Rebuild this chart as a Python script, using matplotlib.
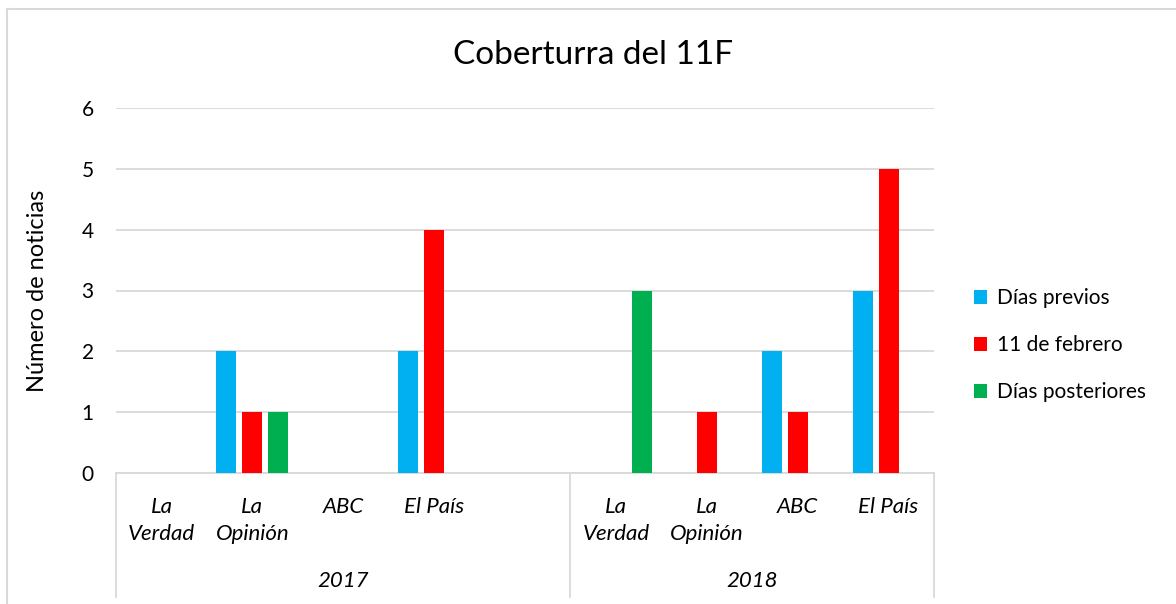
import matplotlib
matplotlib.use("Agg")
import matplotlib.pyplot as plt
from matplotlib.lines import Line2D
from matplotlib.patches import Patch
import numpy as np

plt.rcParams['font.family'] = ['Lato', 'DejaVu Sans']

years = ["2017", "2018"]
newspapers_2017 = ["La\nVerdad", "La\nOpinión", "ABC", "El País", ""]
newspapers_2018 = ["La\nVerdad", "La\nOpinión", "ABC", "El País"]
categories = newspapers_2017 + newspapers_2018

series_names = ["Días previos", "11 de febrero", "Días posteriores"]
dias_previos = [0, 2, 0, 2, 0, 0, 0, 2, 3]
once_febrero = [0, 1, 0, 4, 0, 0, 1, 1, 5]
dias_posteriores = [0, 1, 0, 0, 0, 3, 0, 0, 0]
colors = ["#00B0F0", "#FF0000", "#00B050"]

W, H = 1176, 604
fig = plt.figure(figsize=(W / 100, H / 100), dpi=100)

x0, x1 = 116, 934
ytop, ybot = 108, 473
ax = fig.add_axes([x0 / W, 1 - ybot / H, (x1 - x0) / W, (ybot - ytop) / H])

x = np.arange(len(categories))
bw = 0.22
off = 0.286
for i, (vals, name, c) in enumerate(zip([dias_previos, once_febrero, dias_posteriores], series_names, colors)):
    ax.bar(x + (i - 1) * off, vals, width=bw, color=c, label=name, zorder=3)

ax.set_xlim(-0.5, len(categories) - 0.5)
ax.set_ylim(0, 6)
ax.set_yticks(range(0, 7))
ax.yaxis.grid(True, color="#D9D9D9", linewidth=1.3, zorder=0)
for s in ["top", "right", "left"]:
    ax.spines[s].set_visible(False)
ax.spines["bottom"].set_color("#D9D9D9")
ax.spines["bottom"].set_linewidth(1.3)
ax.tick_params(axis="y", length=0, labelsize=15, pad=16)
ax.tick_params(axis="x", length=0)
ax.set_xticks([])
ax.set_ylabel("Número de noticias", fontsize=17, labelpad=24)

# category labels
for xi, lab in zip(x, categories):
    ax.annotate(lab, xy=(xi, 0), xycoords=("data", "axes fraction"),
                xytext=(0, -24), textcoords="offset pixels",
                ha="center", va="top", fontsize=16, style="italic",
                linespacing=1.45)

# year labels and separators
n17 = len(newspapers_2017)
for cx, yl in zip([(-0.5 + n17 - 0.5) / 2, (n17 - 0.5 + len(categories) - 0.5) / 2], years):
    ax.annotate(yl, xy=(cx, 0), xycoords=("data", "axes fraction"),
                xytext=(0, -108), textcoords="offset pixels",
                ha="center", va="center", fontsize=16, style="italic")

sep_px = [x0, x0 + (x1 - x0) * n17 / len(categories), x1]
for px in sep_px:
    fig.add_artist(Line2D([px / W, px / W], [1 - ybot / H, 1 - 597 / H],
                          color="#D9D9D9", linewidth=1.3))

# outer border
fig.add_artist(Line2D([7 / W, 7 / W], [0, 1 - 9 / H], color="#D9D9D9", linewidth=1.5))
fig.add_artist(Line2D([7 / W, 1], [1 - 9 / H, 1 - 9 / H], color="#D9D9D9", linewidth=1.5))

fig.text(593 / W, 1 - 55 / H, "Coberturra del 11F", ha="center", va="center", fontsize=24)

handles = [Patch(facecolor=c, edgecolor="none") for c in colors]
fig.legend(handles, series_names, loc="center left", bbox_to_anchor=(955 / W, 1 - 345 / H),
           frameon=False, fontsize=15, handlelength=0.65, handleheight=0.65,
           handletextpad=0.45, labelspacing=1.3)

fig.savefig("out.png", dpi=100)
